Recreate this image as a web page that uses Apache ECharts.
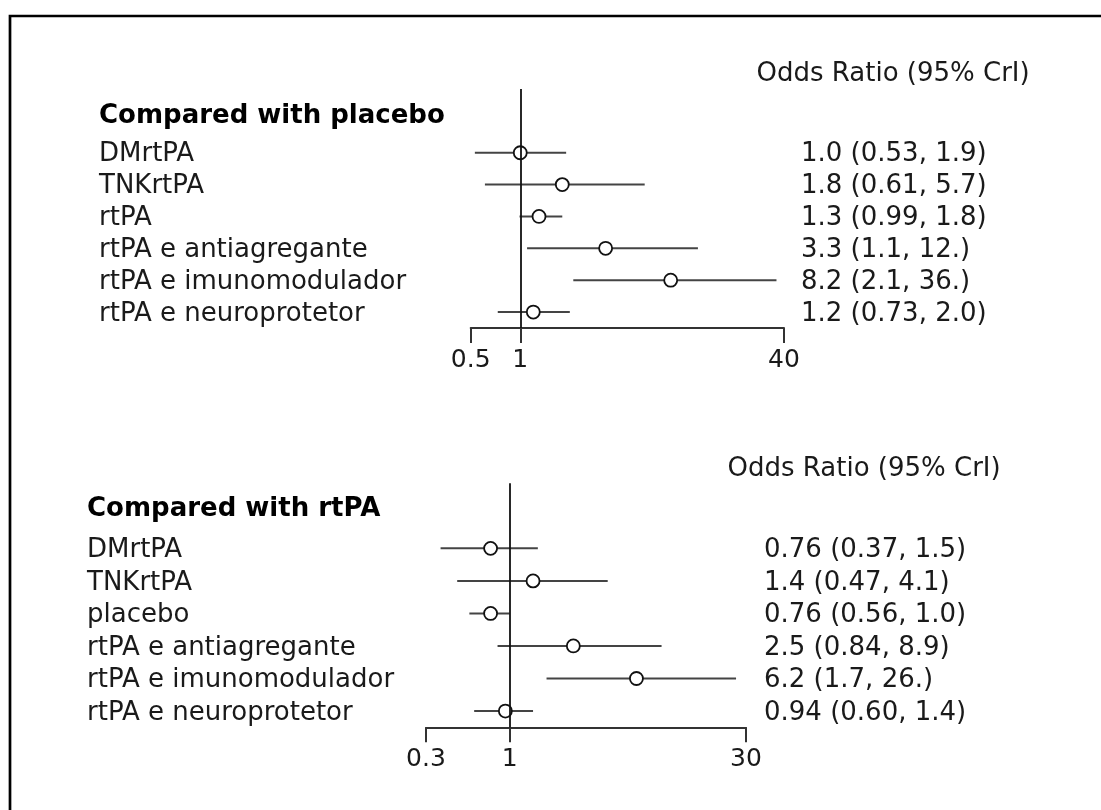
<!DOCTYPE html>
<html>
<head>
<meta charset="utf-8">
<script src="https://cdn.jsdelivr.net/npm/echarts@6/dist/echarts.min.js"></script>
<style>
html,body{margin:0;padding:0;background:#fff;}
#chart{width:1101px;height:810px;}
</style>
</head>
<body>
<div id="chart"></div>
<script>
// ---- Data: Compared with placebo ----
const groups1 = ['DMrtPA', 'TNKrtPA', 'rtPA', 'rtPA e antiagregante', 'rtPA e imunomodulador', 'rtPA e neuroprotetor'];
const or1 = [1.0, 1.8, 1.3, 3.3, 8.2, 1.2];
const lo1 = [0.53, 0.61, 0.99, 1.1, 2.1, 0.73];
const hi1 = [1.9, 5.7, 1.8, 12, 36, 2.0];
const ticks1 = [0.5, 1, 40];

// ---- Data: Compared with rtPA ----
const groups2 = ['DMrtPA', 'TNKrtPA', 'placebo', 'rtPA e antiagregante', 'rtPA e imunomodulador', 'rtPA e neuroprotetor'];
const or2 = [0.76, 1.4, 0.76, 2.5, 6.2, 0.94];
const lo2 = [0.37, 0.47, 0.56, 0.84, 1.7, 0.60];
const hi2 = [1.5, 4.1, 1.0, 8.9, 26, 1.4];
const ticks2 = [0.3, 1, 30];

const title1 = 'Compared with placebo';
const title2 = 'Compared with rtPA';
const header = 'Odds Ratio (95% CrI)';

const FONT = '"DejaVu Sans", "Liberation Sans", sans-serif';
const TXT = '#1a1a1a';

function fmt(v) {
  let s = Number(v).toPrecision(2);
  if (s.indexOf('.') < 0) s += '.';
  return s;
}

function makeRender(names, labelX, valueX) {
  return function (params, api) {
    const i = params.dataIndex;
    const row = api.value(1);
    const a = api.coord([api.value(0), row]);
    const b = api.coord([api.value(2), row]);
    const ty = a[1] + 2;
    return {
      type: 'group',
      children: [
        { type: 'line', shape: { x1: a[0], y1: a[1], x2: b[0], y2: b[1] },
          style: { stroke: '#444', lineWidth: 2 } },
        { type: 'text', x: labelX, y: ty,
          style: { text: names[i], fontSize: 26, fontFamily: FONT, fill: TXT, align: 'left', verticalAlign: 'middle' } },
        { type: 'text', x: valueX, y: ty,
          style: { text: fmt(api.value(3)) + ' (' + fmt(api.value(0)) + ', ' + fmt(api.value(2)) + ')',
                   fontSize: 26, fontFamily: FONT, fill: TXT, align: 'left', verticalAlign: 'middle' } }
      ]
    };
  };
}

function xAxisFor(gi, mn, mx, ticks) {
  return {
    type: 'log', logBase: 10, gridIndex: gi, min: mn, max: mx, position: 'bottom',
    axisLine: { show: true, onZero: false, lineStyle: { color: '#333', width: 2 } },
    axisTick: { show: true, customValues: ticks, length: 15, inside: false, lineStyle: { color: '#333', width: 2 } },
    axisLabel: { show: true, customValues: ticks, fontSize: 25, fontFamily: FONT, color: TXT, margin: 20,
                 formatter: function (v) { return String(v); } },
    splitLine: { show: false }, minorTick: { show: false }
  };
}

function yAxisFor(gi) {
  return { type: 'value', gridIndex: gi, inverse: true, min: -2, max: 5.5, show: false };
}

function refLine() {
  return {
    silent: true, symbol: 'none', z: 10, animation: false,
    label: { show: false },
    lineStyle: { color: '#111', width: 1.8, type: 'solid' },
    data: [{ xAxis: 1 }]
  };
}

const ci1 = groups1.map((g, i) => [lo1[i], i, hi1[i], or1[i]]);
const ci2 = groups2.map((g, i) => [lo2[i], i, hi2[i], or2[i]]);
const pt1 = or1.map((v, i) => [v, i]);
const pt2 = or2.map((v, i) => [v, i]);

const option = {
  animation: false,
  backgroundColor: '#fff',
  grid: [
    { left: 470.7, top: 89, width: 313.3, height: 239 },
    { left: 426, top: 483.3, width: 320, height: 244 }
  ],
  xAxis: [xAxisFor(0, 0.5, 40, ticks1), xAxisFor(1, 0.3, 30, ticks2)],
  yAxis: [yAxisFor(0), yAxisFor(1)],
  series: [
    { type: 'custom', xAxisIndex: 0, yAxisIndex: 0, clip: false, z: 2,
      renderItem: makeRender(groups1, 99, 801), encode: { x: [0, 2], y: 1 }, data: ci1 },
    { type: 'scatter', xAxisIndex: 0, yAxisIndex: 0, z: 3, symbol: 'circle', symbolSize: 13,
      itemStyle: { color: '#fff', borderColor: '#111', borderWidth: 1.8, opacity: 1 },
      data: pt1, markLine: refLine() },
    { type: 'custom', xAxisIndex: 1, yAxisIndex: 1, clip: false, z: 2,
      renderItem: makeRender(groups2, 87, 764), encode: { x: [0, 2], y: 1 }, data: ci2 },
    { type: 'scatter', xAxisIndex: 1, yAxisIndex: 1, z: 3, symbol: 'circle', symbolSize: 13,
      itemStyle: { color: '#fff', borderColor: '#111', borderWidth: 1.8, opacity: 1 },
      data: pt2, markLine: refLine() }
  ],
  graphic: [
    { type: 'rect', silent: true, shape: { x: 10, y: 16, width: 1300, height: 1000 },
      style: { fill: 'none', stroke: '#000', lineWidth: 2.7 } },
    { type: 'text', x: 756.5, y: 74.5,
      style: { text: header, fontSize: 26, fontFamily: FONT, fill: TXT, verticalAlign: 'middle' } },
    { type: 'text', x: 99, y: 116,
      style: { text: title1, fontSize: 26, fontWeight: 'bold', fontFamily: FONT, fill: '#000', verticalAlign: 'middle' } },
    { type: 'text', x: 727.5, y: 469,
      style: { text: header, fontSize: 26, fontFamily: FONT, fill: TXT, verticalAlign: 'middle' } },
    { type: 'text', x: 87, y: 509,
      style: { text: title2, fontSize: 26, fontWeight: 'bold', fontFamily: FONT, fill: '#000', verticalAlign: 'middle' } }
  ]
};

const chart = echarts.init(document.getElementById('chart'));
chart.setOption(option);
</script>
</body>
</html>
